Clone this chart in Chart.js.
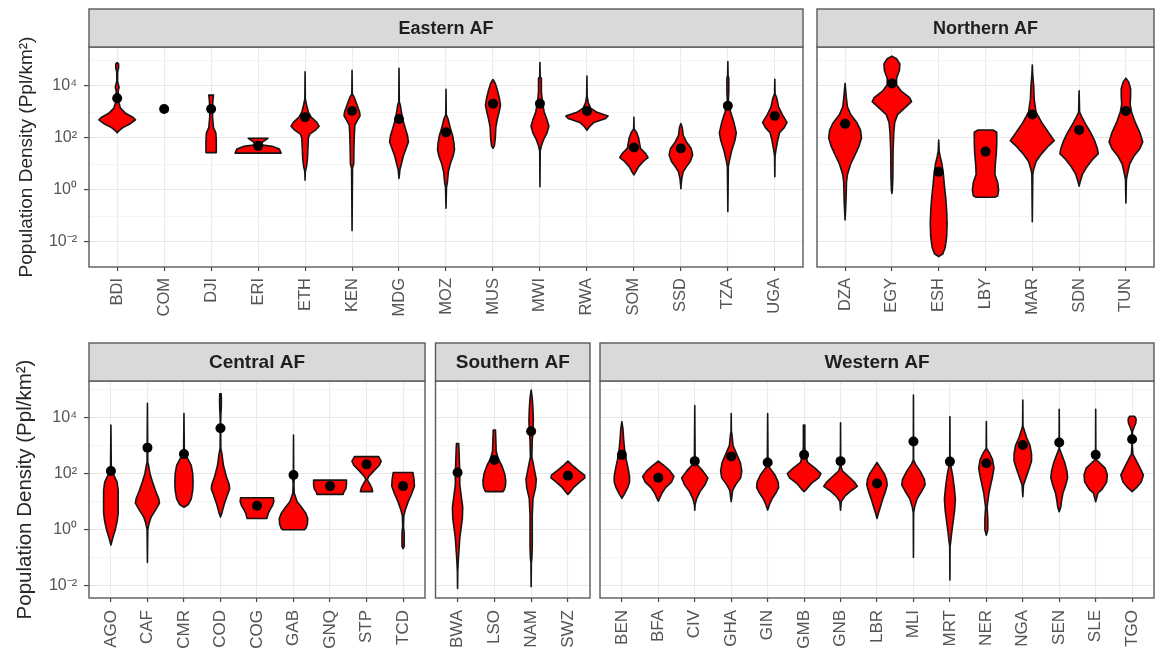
<!DOCTYPE html>
<html>
<head>
<meta charset="utf-8">
<title>Population density by country</title>
<script src="https://cdn.jsdelivr.net/npm/chart.js@4.4.1/dist/chart.umd.min.js"></script>
<style>
  html, body { margin: 0; padding: 0; background: #fff; }
  #wrap { position: relative; width: 1159px; height: 657px; overflow: hidden; background: #fff; }
  #wrap canvas { position: absolute; }
</style>
</head>
<body>
<div id="wrap"></div>
<script>
// ---------------------------------------------------------------------------
// Data. Means are population densities (people per km²).
// Violin profiles: [log10 density, kernel-density half-width in category units],
// listed from the top of each violin to its bottom.
// ---------------------------------------------------------------------------
const easternCodes = ['BDI','COM','DJI','ERI','ETH','KEN','MDG','MOZ','MUS','MWI','RWA','SOM','SSD','TZA','UGA'];
const easternMeans = [3400, 1300, 1300, 50, 630, 1100, 540, 165, 2100, 2100, 1100, 43, 40, 1750, 700];
const easternProfiles = [
  [[4.9,0],[4.85,0.03],[4.7,0.03],[4.55,0.01],[4.2,0.008],[3.95,0.04],[3.8,0.02],[3.4,0.03],[3.15,0.07],[2.95,0.18],[2.8,0.33],[2.7,0.39],[2.55,0.28],[2.4,0.12],[2.28,0.04],[2.2,0]],
  [],
  [[3.65,0.05],[3.5,0.04],[3.2,0.03],[2.8,0.03],[2.4,0.05],[2.2,0.1],[1.9,0.11],[1.6,0.11],[1.44,0.11]],
  [[1.99,0.21],[1.85,0.1],[1.74,0.06],[1.68,0.3],[1.58,0.45],[1.42,0.49]],
  [[4.55,0],[3.5,0.005],[3.2,0.04],[3.0,0.07],[2.8,0.13],[2.6,0.25],[2.45,0.3],[2.3,0.22],[2.15,0.1],[2.0,0.07],[1.6,0.06],[1.2,0.05],[0.9,0.03],[0.7,0.005],[0.38,0]],
  [[4.6,0],[3.7,0.005],[3.55,0.05],[3.3,0.1],[3.0,0.16],[2.85,0.17],[2.7,0.12],[2.5,0.06],[2.2,0.05],[1.6,0.04],[1.0,0.035],[0.85,0.01],[-1.56,0]],
  [[4.68,0],[3.4,0.005],[3.25,0.03],[3.0,0.05],[2.7,0.08],[2.4,0.13],[2.1,0.18],[1.85,0.2],[1.6,0.15],[1.3,0.09],[1.0,0.05],[0.8,0.02],[0.45,0]],
  [[3.87,0],[2.9,0.005],[2.75,0.04],[2.4,0.09],[2.1,0.14],[1.8,0.17],[1.55,0.18],[1.3,0.15],[1.0,0.09],[0.7,0.05],[0.3,0.03],[0.1,0.01],[-0.7,0]],
  [[4.25,0],[4.1,0.05],[3.8,0.1],[3.5,0.14],[3.25,0.16],[3.0,0.13],[2.7,0.09],[2.4,0.06],[2.0,0.05],[1.7,0.03],[1.6,0]],
  [[4.9,0],[4.35,0.005],[4.3,0.03],[3.8,0.03],[3.4,0.05],[3.0,0.09],[2.7,0.15],[2.45,0.19],[2.2,0.15],[1.95,0.08],[1.7,0.03],[1.5,0.005],[0.13,0]],
  [[4.38,0],[3.6,0.005],[3.35,0.03],[3.15,0.08],[3.0,0.2],[2.85,0.45],[2.75,0.4],[2.6,0.15],[2.45,0.06],[2.3,0]],
  [[2.8,0],[2.35,0.005],[2.2,0.06],[2.0,0.1],[1.8,0.12],[1.6,0.14],[1.4,0.25],[1.25,0.3],[1.1,0.2],[0.9,0.1],[0.7,0.04],[0.58,0]],
  [[2.56,0],[2.4,0.03],[2.1,0.05],[1.85,0.12],[1.6,0.22],[1.35,0.25],[1.1,0.2],[0.9,0.12],[0.7,0.05],[0.45,0.02],[0.2,0.005],[0.05,0]],
  [[4.94,0],[4.4,0.005],[4.3,0.02],[3.8,0.02],[3.4,0.01],[3.0,0.06],[2.6,0.13],[2.2,0.18],[1.9,0.15],[1.5,0.08],[1.1,0.03],[0.9,0.01],[-0.83,0]],
  [[4.26,0],[3.7,0.005],[3.55,0.04],[3.2,0.08],[2.9,0.16],[2.6,0.26],[2.4,0.2],[2.2,0.1],[1.9,0.06],[1.5,0.02],[1.3,0.005],[0.51,0]]
];

const northernCodes = ['DZA','EGY','ESH','LBY','MAR','SDN','TUN'];
const northernMeans = [350, 12600, 5, 30, 800, 205, 1100];
const northernProfiles = [
  [[4.1,0],[3.5,0.03],[3.2,0.05],[2.9,0.12],[2.6,0.25],[2.3,0.33],[2.0,0.35],[1.7,0.3],[1.3,0.2],[1.0,0.12],[0.6,0.05],[0.3,0.03],[-0.4,0.02],[-0.8,0.01],[-1.15,0]],
  [[5.15,0],[5.05,0.1],[4.85,0.17],[4.6,0.16],[4.3,0.1],[4.05,0.1],[3.8,0.2],[3.55,0.38],[3.4,0.42],[3.2,0.3],[2.9,0.12],[2.6,0.06],[2.2,0.04],[1.5,0.025],[0.5,0.02],[0,0.01],[-0.13,0]],
  [[1.92,0],[1.5,0.01],[1.3,0.03],[1.0,0.07],[0.6,0.1],[0.2,0.12],[-0.3,0.15],[-0.8,0.17],[-1.3,0.18],[-1.8,0.17],[-2.2,0.14],[-2.45,0.09],[-2.56,0]],
  [[2.31,0.16],[2.22,0.24],[1.8,0.24],[1.4,0.23],[1.0,0.21],[0.6,0.2],[0.3,0.26],[0.0,0.28],[-0.22,0.26],[-0.28,0.2]],
  [[4.81,0],[4.4,0.01],[4.0,0.03],[3.5,0.04],[3.0,0.08],[2.6,0.2],[2.2,0.35],[1.9,0.47],[1.7,0.35],[1.4,0.2],[1.1,0.08],[0.8,0.03],[0.6,0.01],[-1.22,0]],
  [[3.82,0],[3.0,0.01],[2.8,0.06],[2.5,0.15],[2.2,0.25],[1.9,0.33],[1.6,0.39],[1.4,0.41],[1.2,0.3],[0.9,0.17],[0.6,0.07],[0.3,0.02],[0.15,0]],
  [[4.3,0],[4.15,0.06],[3.9,0.1],[3.6,0.1],[3.3,0.09],[3.0,0.12],[2.6,0.2],[2.2,0.3],[1.85,0.36],[1.6,0.3],[1.3,0.17],[1.0,0.08],[0.6,0.03],[0.4,0.01],[-0.5,0]]
];

const centralCodes = ['AGO','CAF','CMR','COD','COG','GAB','GNQ','STP','TCD'];
const centralMeans = [125, 850, 500, 4200, 7.2, 90, 36, 215, 36];
const centralProfiles = [
  [[3.74,0],[2.2,0.01],[1.95,0.08],[1.7,0.17],[1.4,0.2],[1.0,0.2],[0.6,0.2],[0.3,0.17],[0.0,0.12],[-0.3,0.05],[-0.45,0.02],[-0.55,0]],
  [[4.51,0],[2.4,0.01],[2.3,0.03],[2.0,0.07],[1.7,0.14],[1.4,0.22],[1.1,0.31],[0.95,0.33],[0.7,0.22],[0.45,0.1],[0.2,0.04],[0.0,0.01],[-1.17,0]],
  [[4.15,0],[2.75,0.01],[2.55,0.1],[2.3,0.2],[2.0,0.24],[1.7,0.25],[1.4,0.24],[1.1,0.2],[0.9,0.12],[0.8,0]],
  [[4.85,0.02],[4.6,0.025],[4.3,0.02],[4.1,0.01],[3.8,0.005],[2.9,0.01],[2.7,0.04],[2.3,0.08],[1.9,0.16],[1.6,0.24],[1.45,0.25],[1.2,0.18],[0.9,0.1],[0.6,0.04],[0.45,0]],
  [[1.14,0.45],[1.0,0.46],[0.85,0.42],[0.7,0.35],[0.55,0.3],[0.4,0.27]],
  [[3.38,0],[2.0,0.005],[1.85,0.02],[1.6,0.01],[1.3,0.02],[1.0,0.1],[0.8,0.22],[0.6,0.33],[0.4,0.39],[0.2,0.38],[0.05,0.34],[0.0,0.3]],
  [[1.77,0.45],[1.6,0.45],[1.45,0.43],[1.35,0.38],[1.26,0.36]],
  [[2.61,0.33],[2.45,0.4],[2.3,0.35],[2.1,0.2],[1.9,0.06],[1.78,0.02],[1.65,0.08],[1.5,0.14],[1.36,0.17]],
  [[2.04,0.27],[1.8,0.3],[1.55,0.31],[1.3,0.24],[1.0,0.14],[0.7,0.06],[0.5,0.02],[0.1,0.01],[-0.1,0.03],[-0.6,0.03],[-0.68,0]]
];

const southernCodes = ['BWA','LSO','NAM','SWZ'];
const southernMeans = [110, 310, 3300, 85];
const southernProfiles = [
  [[3.08,0.03],[2.8,0.04],[2.4,0.05],[2.0,0.06],[1.6,0.06],[1.2,0.1],[0.8,0.14],[0.4,0.13],[0.1,0.1],[-0.3,0.06],[-0.7,0.04],[-1.1,0.02],[-1.5,0.005],[-2.1,0]],
  [[3.56,0.03],[3.2,0.04],[2.8,0.05],[2.55,0.1],[2.3,0.2],[2.0,0.28],[1.75,0.31],[1.55,0.3],[1.4,0.26],[1.36,0.23]],
  [[4.99,0],[4.7,0.03],[4.3,0.05],[3.9,0.06],[3.5,0.05],[3.2,0.03],[2.6,0.02],[2.2,0.08],[1.8,0.14],[1.5,0.12],[1.1,0.05],[0.5,0.03],[0,0.03],[-0.6,0.03],[-1.0,0.02],[-1.2,0.005],[-2.04,0]],
  [[2.45,0],[2.3,0.12],[2.1,0.3],[1.95,0.45],[1.85,0.46],[1.7,0.32],[1.5,0.15],[1.35,0.06],[1.26,0]]
];

const westernCodes = ['BEN','BFA','CIV','GHA','GIN','GMB','GNB','LBR','MLI','MRT','NER','NGA','SEN','SLE','TGO'];
const westernMeans = [470, 72, 280, 410, 250, 470, 280, 45, 1400, 270, 235, 1050, 1300, 470, 1700];
const westernProfiles = [
  [[3.86,0],[3.6,0.03],[3.2,0.05],[2.8,0.08],[2.5,0.12],[2.2,0.17],[1.9,0.21],[1.7,0.21],[1.5,0.16],[1.3,0.08],[1.12,0]],
  [[2.45,0],[2.3,0.15],[2.1,0.32],[1.9,0.43],[1.7,0.36],[1.5,0.2],[1.3,0.1],[1.1,0.03],[1.02,0]],
  [[4.43,0],[2.5,0.01],[2.3,0.08],[2.1,0.22],[1.85,0.36],[1.6,0.28],[1.35,0.14],[1.1,0.05],[0.9,0.01],[0.7,0]],
  [[4.15,0],[3.5,0.005],[3.4,0.02],[3.0,0.05],[2.7,0.15],[2.4,0.25],[2.1,0.29],[1.85,0.26],[1.6,0.12],[1.4,0.04],[1.0,0]],
  [[4.15,0],[2.3,0.01],[2.2,0.06],[1.95,0.2],[1.7,0.29],[1.5,0.3],[1.3,0.22],[1.1,0.12],[0.9,0.05],[0.7,0]],
  [[3.74,0.02],[3.4,0.02],[3.0,0.02],[2.7,0.03],[2.4,0.1],[2.2,0.3],[2.0,0.46],[1.85,0.4],[1.65,0.2],[1.45,0.07],[1.36,0]],
  [[3.82,0],[2.3,0.005],[2.1,0.05],[1.9,0.22],[1.7,0.38],[1.55,0.46],[1.4,0.3],[1.2,0.12],[1.0,0.02],[0.7,0]],
  [[2.4,0],[2.2,0.1],[2.0,0.2],[1.8,0.26],[1.6,0.28],[1.4,0.24],[1.1,0.16],[0.8,0.09],[0.55,0.03],[0.4,0]],
  [[4.81,0],[2.5,0.005],[2.35,0.05],[2.1,0.18],[1.8,0.3],[1.6,0.32],[1.4,0.24],[1.1,0.1],[0.8,0.03],[0.6,0.005],[-0.99,0]],
  [[4.04,0],[2.4,0.005],[2.25,0.03],[1.9,0.08],[1.5,0.12],[1.1,0.15],[0.7,0.13],[0.3,0.09],[-0.1,0.05],[-0.45,0.02],[-0.6,0.005],[-1.8,0]],
  [[3.86,0],[2.9,0.005],[2.75,0.08],[2.5,0.17],[2.2,0.21],[1.9,0.17],[1.6,0.12],[1.3,0.07],[1.0,0.04],[0.8,0.02],[0.6,0.03],[0.4,0.04],[0.0,0.04],[-0.2,0]],
  [[4.63,0],[3.7,0.005],[3.55,0.04],[3.3,0.1],[3.0,0.2],[2.7,0.24],[2.45,0.24],[2.2,0.18],[1.9,0.1],[1.6,0.02],[1.18,0]],
  [[4.3,0],[2.9,0.005],[2.75,0.05],[2.4,0.15],[2.1,0.21],[1.85,0.23],[1.6,0.18],[1.3,0.1],[1.0,0.06],[0.8,0.04],[0.64,0]],
  [[4.3,0],[2.5,0.005],[2.4,0.1],[2.2,0.26],[1.95,0.32],[1.7,0.3],[1.45,0.18],[1.3,0.06],[1.0,0]],
  [[4.05,0.07],[3.95,0.11],[3.8,0.1],[3.65,0.05],[3.5,0.01],[3.0,0.005],[2.7,0.02],[2.5,0.1],[2.2,0.22],[1.95,0.31],[1.7,0.25],[1.5,0.12],[1.36,0]]
];

// Log-axis breaks: labelled at even powers of ten, minor grid at odd powers.
const yMajorTicks = [1e-2, 1e0, 1e2, 1e4];
const yMajorLabels = ['10\u207B\u00B2', '10\u2070', '10\u00B2', '10\u2074'];
const yMinorTicks = [1e-3, 1e-1, 1e1, 1e3, 1e5];

// ---------------------------------------------------------------------------
// Facet layout
// ---------------------------------------------------------------------------
const FONT = '"Liberation Sans", Arial, Helvetica, sans-serif';
const STRIP_H = 38;

const panels = [
  { title: 'Eastern AF', codes: easternCodes, means: easternMeans, profiles: easternProfiles,
    box: { x: 0, y: 0, w: 808, h: 330 }, area: { l: 89, t: 47, r: 806, b: 267 },
    logRange: [-2.96, 5.5], showY: true, xFont: 16.5, yTitleFont: 19, yTitleX: 27, stripFont: 18, xPad: 7 },
  { title: 'Northern AF', codes: northernCodes, means: northernMeans, profiles: northernProfiles,
    box: { x: 810, y: 0, w: 349, h: 330 }, area: { l: 817, t: 47, r: 1156, b: 267 },
    logRange: [-2.96, 5.5], showY: false, xFont: 16.5, stripFont: 18, xPad: 7 },
  { title: 'Central AF', codes: centralCodes, means: centralMeans, profiles: centralProfiles,
    box: { x: 0, y: 330, w: 430, h: 327 }, area: { l: 89, t: 381, r: 425.7, b: 598 },
    logRange: [-2.44, 5.31], showY: true, xFont: 17, yTitleFont: 20.5, yTitleX: 25, stripFont: 19, xPad: 8 },
  { title: 'Southern AF', codes: southernCodes, means: southernMeans, profiles: southernProfiles,
    box: { x: 430, y: 330, w: 165, h: 327 }, area: { l: 435.5, t: 381, r: 590, b: 598 },
    logRange: [-2.44, 5.31], showY: false, xFont: 17, stripFont: 19, xPad: 8 },
  { title: 'Western AF', codes: westernCodes, means: westernMeans, profiles: westernProfiles,
    box: { x: 595, y: 330, w: 564, h: 327 }, area: { l: 599.7, t: 381, r: 1156.3, b: 598 },
    logRange: [-2.44, 5.31], showY: false, xFont: 17, stripFont: 19, xPad: 8 }
];

// Violin outlines, drawn through the chart's own x and y scales.
function violinPlugin(profiles) {
  return {
    id: 'violins',
    beforeDatasetsDraw(chart) {
      const xs = chart.scales.x, ys = chart.scales.y, ctx = chart.ctx;
      ctx.save();
      profiles.forEach((prof, i) => {
        if (!prof.length) return;
        ctx.beginPath();
        prof.forEach(([e, w], k) => {
          const px = xs.getPixelForValue(i - w);
          const py = ys.getPixelForValue(Math.pow(10, e));
          if (k === 0) ctx.moveTo(px, py); else ctx.lineTo(px, py);
        });
        for (let k = prof.length - 1; k >= 0; k--) {
          const [e, w] = prof[k];
          ctx.lineTo(xs.getPixelForValue(i + w), ys.getPixelForValue(Math.pow(10, e)));
        }
        ctx.closePath();
        ctx.fillStyle = '#ff0000';
        ctx.fill();
        ctx.lineJoin = 'round';
        ctx.lineWidth = 1.6;
        ctx.strokeStyle = '#151515';
        ctx.stroke();
      });
      ctx.restore();
    }
  };
}

// Panel border and facet strip with its label.
function facetPlugin(title, fontSize) {
  return {
    id: 'facet',
    afterDraw(chart) {
      const { ctx, chartArea: a } = chart;
      ctx.save();
      ctx.lineWidth = 1.4;
      ctx.strokeStyle = '#5a5a5a';
      ctx.strokeRect(a.left, a.top, a.right - a.left, a.bottom - a.top);
      ctx.fillStyle = '#d9d9d9';
      ctx.fillRect(a.left, a.top - STRIP_H, a.right - a.left, STRIP_H);
      ctx.strokeRect(a.left, a.top - STRIP_H, a.right - a.left, STRIP_H);
      ctx.fillStyle = '#1f1f1f';
      ctx.font = 'bold ' + fontSize + 'px ' + FONT;
      ctx.textAlign = 'center';
      ctx.textBaseline = 'middle';
      ctx.fillText(title, (a.left + a.right) / 2, a.top - STRIP_H / 2 + 1);
      ctx.restore();
    }
  };
}

const wrap = document.getElementById('wrap');

panels.forEach(p => {
  const canvas = document.createElement('canvas');
  canvas.width = p.box.w;
  canvas.height = p.box.h;
  canvas.style.left = p.box.x + 'px';
  canvas.style.top = p.box.y + 'px';
  canvas.style.width = p.box.w + 'px';
  canvas.style.height = p.box.h + 'px';
  wrap.appendChild(canvas);

  const yWidth = p.showY ? p.area.l - p.box.x : 0;
  const xHeight = p.box.y + p.box.h - p.area.b;
  const n = p.codes.length;
  const yMin = Math.pow(10, p.logRange[0]);
  const yMax = Math.pow(10, p.logRange[1]);
  // only breaks that fall inside this panel's range
  const allY = yMajorTicks.concat(yMinorTicks)
    .filter(v => v >= yMin && v <= yMax)
    .sort((a, b) => a - b);
  const isMajor = v => yMajorTicks.some(t => Math.abs(Math.log10(t) - Math.log10(v)) < 1e-6);

  new Chart(canvas, {
    type: 'scatter',
    data: {
      datasets: [{
        data: p.means.map((m, i) => ({ x: i, y: m })),
        pointRadius: 5,
        pointHoverRadius: 5,
        backgroundColor: '#000',
        borderWidth: 0
      }]
    },
    options: {
      responsive: false,
      devicePixelRatio: 1,
      animation: false,
      events: [],
      layout: {
        padding: {
          left: p.area.l - p.box.x - yWidth,
          top: p.area.t - p.box.y,
          right: p.box.x + p.box.w - p.area.r,
          bottom: 0
        }
      },
      plugins: { legend: { display: false }, tooltip: { enabled: false } },
      scales: {
        x: {
          type: 'linear',
          min: -0.6,
          max: n - 1 + 0.6,
          afterBuildTicks: s => { s.ticks = p.codes.map((c, i) => ({ value: i })); },
          afterFit: s => { s.height = xHeight; s.paddingLeft = 0; s.paddingRight = 0; },
          ticks: {
            autoSkip: false,
            minRotation: 90,
            maxRotation: 90,
            padding: p.xPad,
            color: '#555',
            font: { family: FONT, size: p.xFont },
            callback: v => p.codes[Math.round(v)]
          },
          grid: { color: '#ebebeb', lineWidth: 1.1, tickLength: 4, tickColor: '#444', tickWidth: 1.2 },
          border: { display: false }
        },
        y: {
          type: 'logarithmic',
          min: yMin,
          max: yMax,
          afterBuildTicks: s => { s.ticks = allY.map(v => ({ value: v })); },
          afterFit: s => { s.width = yWidth; s.paddingTop = 0; s.paddingBottom = 0; },
          ticks: {
            display: p.showY,
            padding: 7,
            color: '#555',
            font: { family: FONT, size: 16 },
            callback: v => {
              const k = yMajorTicks.findIndex(t => Math.abs(Math.log10(t) - Math.log10(v)) < 1e-6);
              return k >= 0 ? yMajorLabels[k] : '';
            }
          },
          grid: {
            drawTicks: p.showY,
            tickLength: 5,
            tickWidth: 1.2,
            color: ctx => (ctx.tick && isMajor(ctx.tick.value)) ? '#e6e6e6' : '#f1f1f1',
            lineWidth: ctx => (ctx.tick && isMajor(ctx.tick.value)) ? 1.1 : 0.8,
            tickColor: ctx => (ctx.tick && isMajor(ctx.tick.value)) ? '#444' : 'rgba(0,0,0,0)'
          },
          border: { display: false },
          title: {
            display: p.showY,
            text: 'Population Density (Ppl/km\u00B2)',
            color: '#262626',
            font: { family: FONT, size: p.yTitleFont || 19 },
            padding: { top: p.showY ? p.yTitleX - (p.yTitleFont || 19) * 0.6 : 0, bottom: 0 }
          }
        }
      }
    },
    plugins: [violinPlugin(p.profiles), facetPlugin(p.title, p.stripFont)]
  });
});
</script>
</body>
</html>
